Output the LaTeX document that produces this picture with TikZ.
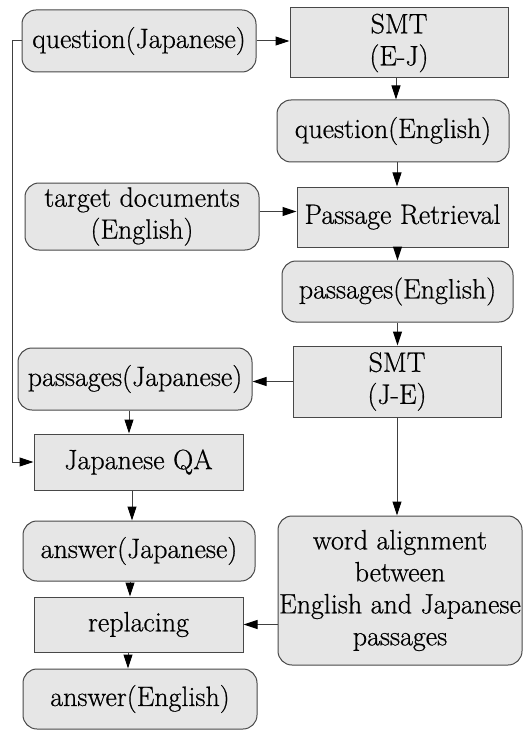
\documentclass[tikz,border=0pt]{standalone}
\usepackage{fontspec}
\newfontfamily\heavylm{Latin Modern Roman}[FakeBold=0.6]
\usetikzlibrary{arrows.meta,calc}
\definecolor{boxfill}{HTML}{E6E6E6}
\definecolor{boxline}{HTML}{484848}
\definecolor{conn}{HTML}{404040}
\begin{document}
\begin{tikzpicture}[x=1pt,y=-1pt,
  base/.style={draw=boxline, fill=boxfill, line width=1pt, inner sep=0pt, align=center,
    font=\heavylm\fontsize{28}{32}\selectfont, text=black},
  rbox/.style={base, rounded corners=14pt},
  sbox/.style={base},
  conn/.style={draw=conn, line width=1pt, -{Triangle[length=14pt,width=9pt,color=black]}}
]
\useasboundingbox (0,0) rectangle (522,730);
% nodes
\node[rbox, minimum width=234pt, minimum height=62pt] (qJ) at (139,41) {question(Japanese)};
\node[sbox, minimum width=218pt, minimum height=70pt] (smtEJ) at (399,43) {SMT\\(E-J)};
\node[rbox, minimum width=232pt, minimum height=62pt] (qE) at (393,131) {question(English)};
\node[rbox, minimum width=234pt, minimum height=67pt] (td) at (142,216.5) {target documents\\(English)};
\node[sbox, minimum width=211pt, minimum height=60pt] (pr) at (402.5,217) {Passage Retrieval};
\node[rbox, minimum width=231pt, minimum height=61pt] (pE) at (397.5,291.5) {passages(English)};
\node[sbox, minimum width=208pt, minimum height=71pt] (smtJE) at (397,381.5) {SMT\\(J-E)};
\node[rbox, minimum width=234pt, minimum height=62pt] (pJ) at (135,379) {passages(Japanese)};
\node[sbox, minimum width=209pt, minimum height=56pt] (jqa) at (138.5,462) {Japanese QA};
\node[rbox, minimum width=232pt, minimum height=60pt] (aJ) at (139,551) {answer(Japanese)};
\node[sbox, minimum width=209pt, minimum height=55pt] (rep) at (138.5,624.5) {replacing};
\node[rbox, minimum width=244pt, minimum height=149pt] (wa) at (400,590.5) {word alignment\\between\\English and Japanese\\passages};
\node[rbox, minimum width=234pt, minimum height=60pt] (aE) at (140,699) {answer(English)};
% connectors
\draw[conn] (qJ.east) -- (qJ.east -| smtEJ.west);
\draw[conn] (qJ.west) -- ++(-9,0) |- (jqa.west);
\draw[conn] ([xshift=-3pt]smtEJ.south) -- ([xshift=-3pt]smtEJ.south |- qE.north);
\draw[conn] ([xshift=4pt]qE.south) -- ([xshift=4pt]qE.south |- pr.north);
\draw[conn] ([yshift=5pt]td.east) -- ([yshift=5pt]td.east -| pr.west);
\draw[conn] (pE.north |- pr.south) -- (pE.north);
\draw[conn] (pE.south) -- (pE.south |- smtJE.north);
\draw[conn] (smtJE.west) -- (smtJE.west -| pJ.east);
\draw[conn] ([xshift=-6pt]pJ.south) -- ([xshift=-6pt]pJ.south |- jqa.north);
\draw[conn] (smtJE.south) -- (smtJE.south |- wa.north);
\draw[conn] ([xshift=-6.5pt]jqa.south) -- ([xshift=-6.5pt]jqa.south |- aJ.north);
\draw[conn] ([xshift=-9pt]aJ.south) -- ([xshift=-9pt]aJ.south |- rep.north);
\draw[conn] (rep.east -| wa.west) -- (rep.east);
\draw[conn] ([xshift=-10.5pt]rep.south) -- ([xshift=-10.5pt]rep.south |- aE.north);
\end{tikzpicture}
\end{document}
